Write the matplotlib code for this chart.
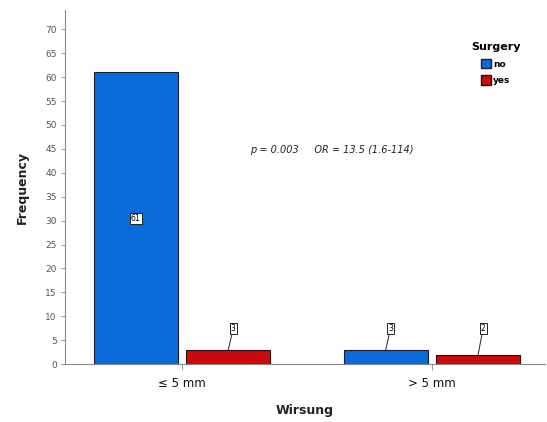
import matplotlib
matplotlib.use("Agg")
import matplotlib.pyplot as plt
from matplotlib.patches import Patch
import numpy as np

categories = ["≤ 5 mm", "> 5 mm"]
groups = ["no", "yes"]
no_vals = [61, 3]
yes_vals = [3, 2]
yticks = list(range(0, 75, 5))
annot = "p = 0.003     OR = 13.5 (1.6-114)"

blue = "#0b6ad9"
red = "#cc0a0a"

fig = plt.figure(figsize=(5.47, 4.22), dpi=100)
ax = fig.add_axes([0.119, 0.137, 0.877, 0.839])

x = np.arange(len(categories))
w = 0.335
off = 0.185
bars_no = ax.bar(x - off, no_vals, w, color=blue, edgecolor="#1a1a3a", linewidth=0.8, label="no")
bars_yes = ax.bar(x + off, yes_vals, w, color=red, edgecolor="#2a0a0a", linewidth=0.8, label="yes")

ax.set_xlim(-0.468, 1.452)
ax.set_ylim(0, 74)
ax.set_yticks(yticks)
ax.set_yticklabels([str(t) for t in yticks], fontsize=6.5, color="#555555")
ax.set_xticks(x)
ax.set_xticklabels(categories, fontsize=8.5, color="#111111")
ax.tick_params(axis="y", length=3, width=0.6, color="#888888", pad=3)
ax.tick_params(axis="x", length=4, width=0.6, color="#888888", pad=5)
for s in ["top", "right"]:
    ax.spines[s].set_visible(False)
ax.spines["left"].set_color("#888888")
ax.spines["bottom"].set_color("#888888")
ax.spines["left"].set_linewidth(0.8)
ax.spines["bottom"].set_linewidth(0.8)

ax.set_ylabel("Frequency", fontsize=9, fontweight="bold", color="#222222", labelpad=12)
ax.set_xlabel("Wirsung", fontsize=9, fontweight="bold", color="#222222", labelpad=10)

bbox = dict(boxstyle="square,pad=0.15", fc="white", ec="#222222", lw=0.7)
label_y = 7.5
for bars, vals in [(bars_no, no_vals), (bars_yes, yes_vals)]:
    for b, v in zip(bars, vals):
        cx = b.get_x() + b.get_width() / 2
        if v > 10:
            ax.text(cx, v / 2, str(v), ha="center", va="center", fontsize=5.5, bbox=bbox)
        else:
            ax.annotate(str(v), xy=(cx, v), xytext=(cx + 0.02, label_y), ha="center", va="center",
                        fontsize=5.5, bbox=bbox,
                        arrowprops=dict(arrowstyle="-", color="#222222", lw=0.7, shrinkA=0, shrinkB=0))

fig.text(0.457, 0.645, annot, fontsize=7, style="italic", color="#222222", ha="left", va="center")

handles = [Patch(facecolor=blue, edgecolor="#1a1a3a", label="no"),
           Patch(facecolor=red, edgecolor="#2a0a0a", label="yes")]
leg = fig.legend(handles=handles, loc="upper left", bbox_to_anchor=(0.85, 0.915),
                 frameon=False, fontsize=6.5, title="Surgery", handlelength=1.1, handleheight=1.2,
                 handletextpad=0.2, labelspacing=0.75, borderpad=0.2)
leg.get_title().set_fontweight("bold")
leg.get_title().set_fontsize(8)
for t in leg.get_texts():
    t.set_fontweight("bold")

fig.savefig("out.png", dpi=100)
